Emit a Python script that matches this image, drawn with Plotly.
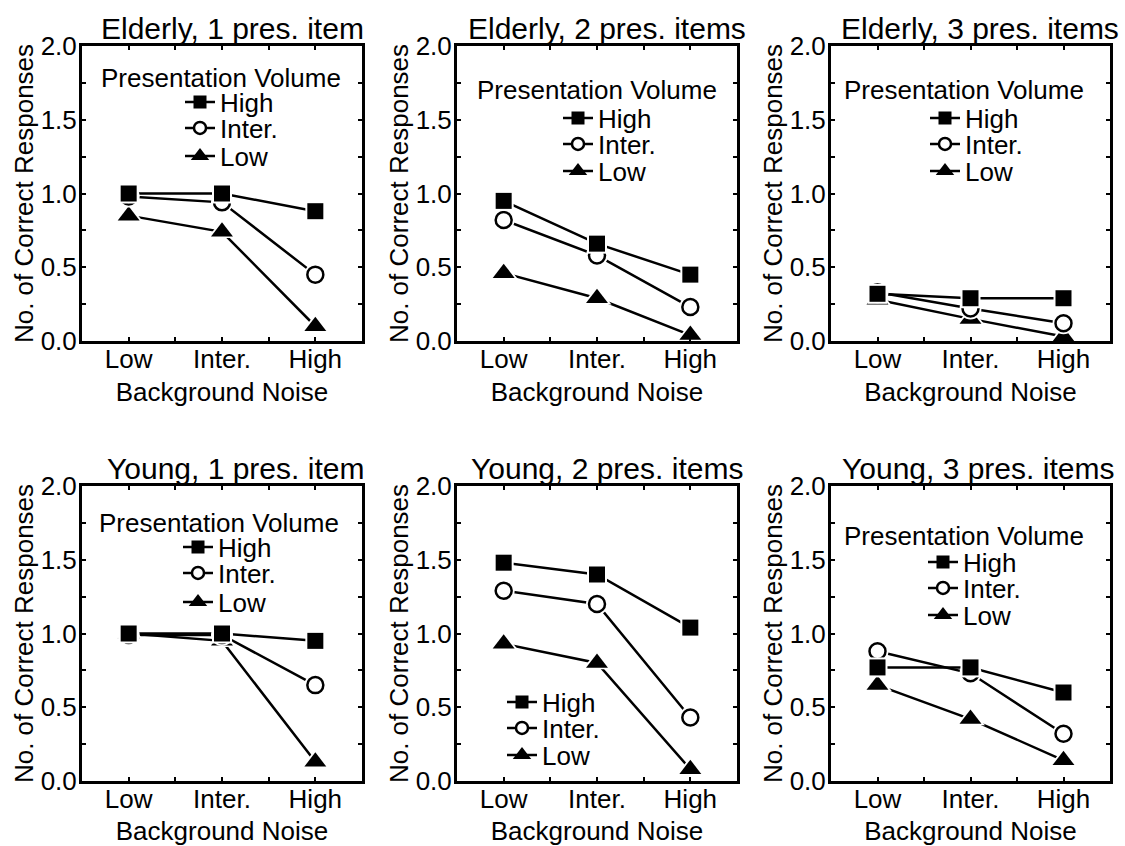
import plotly.graph_objects as go

W, H = 1125, 846

noise_levels = ["Low", "Inter.", "High"]
volume_levels = ["High", "Inter.", "Low"]
panel_titles = [
    "Elderly, 1 pres. item", "Elderly, 2 pres. items", "Elderly, 3 pres. items",
    "Young, 1 pres. item", "Young, 2 pres. items", "Young, 3 pres. items",
]
y_ticks = [0.0, 0.5, 1.0, 1.5, 2.0]

# values per panel: High / Inter. / Low presentation volume, across noise Low, Inter., High
elderly_1_high = [1.00, 1.00, 0.88]
elderly_1_inter = [0.98, 0.94, 0.45]
elderly_1_low = [0.85, 0.74, 0.10]

elderly_2_high = [0.95, 0.66, 0.45]
elderly_2_inter = [0.82, 0.58, 0.23]
elderly_2_low = [0.46, 0.29, 0.04]

elderly_3_high = [0.32, 0.29, 0.29]
elderly_3_inter = [0.33, 0.22, 0.12]
elderly_3_low = [0.28, 0.15, 0.03]

young_1_high = [1.00, 1.00, 0.95]
young_1_inter = [0.99, 0.99, 0.65]
young_1_low = [1.00, 0.95, 0.13]

young_2_high = [1.48, 1.40, 1.04]
young_2_inter = [1.29, 1.20, 0.43]
young_2_low = [0.93, 0.80, 0.08]

young_3_high = [0.77, 0.77, 0.60]
young_3_inter = [0.88, 0.73, 0.32]
young_3_low = [0.65, 0.42, 0.14]

panels = [
    [elderly_1_high, elderly_1_inter, elderly_1_low],
    [elderly_2_high, elderly_2_inter, elderly_2_low],
    [elderly_3_high, elderly_3_inter, elderly_3_low],
    [young_1_high, young_1_inter, young_1_low],
    [young_2_high, young_2_inter, young_2_low],
    [young_3_high, young_3_inter, young_3_low],
]

FONT = "Arial, Liberation Sans, sans-serif"


def fx(px):
    return px / W


def fy(py):
    return 1 - py / H


# plot boxes in pixels (left, right) and (top, bottom)
col_px = [(82, 362), (457, 737), (831, 1110)]
row_px = [(46, 341), (486, 781)]

# marker styles drawn on the data points
styles = {
    "High": dict(symbol="square", size=16, color="black", line=dict(width=0)),
    "Inter.": dict(symbol="circle", size=16, color="white", line=dict(color="black", width=2.5)),
    "Low": dict(symbol="triangle-up", size=19, color="black", line=dict(width=0)),
}
# white halo under each marker, so connecting lines stop short of the symbols
halo_size = {"High": 20, "Inter.": 22, "Low": 25}
# smaller symbols shown in the legend keys
legend_styles = {
    "High": dict(symbol="square", size=13, color="black", line=dict(width=0)),
    "Inter.": dict(symbol="circle", size=12, color="white", line=dict(color="black", width=2.5)),
    "Low": dict(symbol="triangle-up", size=16, color="black", line=dict(width=0)),
}

x_pos = [i + 1 for i in range(len(noise_levels))]

fig = go.Figure()
layout = dict(
    width=W, height=H,
    margin=dict(l=0, r=0, t=0, b=0, autoexpand=False),
    paper_bgcolor="white", plot_bgcolor="white",
    font=dict(family=FONT, color="black", size=26),
    showlegend=True,
)

# legend placement per panel: text-start x px, item centre y px (High, Inter., Low), title centre
legend_pos = [
    (220, [102, 128, 156], (221, 78)),
    (598, [118, 144, 171], (597, 90)),
    (965, [118, 144, 171], (964, 90)),
    (218, [547, 573, 602], (219, 523)),
    (542, [702, 728, 755], None),
    (963, [562, 588, 615], (964, 536)),
]
title_pos = [(232, 28), (607, 28), (980, 28), (235, 468), (607, 468), (978, 468)]

annotations = []
leg_n = 0
for p, series in enumerate(panels):
    r, c = divmod(p, 3)
    idx = "" if p == 0 else str(p + 1)
    xa, ya = "x" + idx, "y" + idx
    tx, item_ys, ttl = legend_pos[p]
    # connecting lines (these also supply the legend keys)
    for k, (name, vals) in enumerate(zip(volume_levels, series)):
        leg_n += 1
        leg = "legend" if leg_n == 1 else "legend" + str(leg_n)
        fig.add_trace(go.Scatter(
            x=x_pos, y=vals, name=name, mode="lines+markers",
            line=dict(color="black", width=2.5),
            marker=legend_styles[name], xaxis=xa, yaxis=ya, legend=leg,
        ))
        layout[leg] = dict(
            x=fx(tx - 40), y=fy(item_ys[k]), xanchor="left", yanchor="middle",
            bgcolor="rgba(0,0,0,0)", borderwidth=0,
            font=dict(size=26, family=FONT, color="black"),
            itemsizing="trace",
        )
    # symbols on top of all lines (Low first, High on top)
    for name, vals in reversed(list(zip(volume_levels, series))):
        fig.add_trace(go.Scatter(
            x=x_pos, y=vals, mode="markers", showlegend=False, hoverinfo="skip",
            marker=dict(symbol=styles[name]["symbol"], size=halo_size[name], color="white",
                        line=dict(width=0)),
            xaxis=xa, yaxis=ya,
        ))
        fig.add_trace(go.Scatter(
            x=x_pos, y=vals, name=name, mode="markers", showlegend=False,
            marker=styles[name], xaxis=xa, yaxis=ya,
        ))
    l, rr = col_px[c]
    t, b = row_px[r]
    axis_common = dict(
        showline=True, linecolor="black", linewidth=3, mirror="ticks",
        ticks="inside", ticklen=4, tickwidth=2, tickcolor="black",
        showgrid=False, zeroline=False,
        tickfont=dict(size=26, family=FONT, color="black"),
    )
    layout["xaxis" + idx] = dict(
        axis_common, domain=[fx(l), fx(rr)], anchor=ya, range=[0.5, 3.5],
        tickvals=x_pos, ticktext=noise_levels, ticklabelstandoff=-7,
        minor=dict(dtick=0.5, tick0=0.5, ticks="inside", ticklen=4, tickwidth=2, tickcolor="black"),
        title=dict(text="Background Noise", font=dict(size=26, family=FONT, color="black"), standoff=10),
    )
    layout["yaxis" + idx] = dict(
        axis_common, domain=[fy(b), fy(t)], anchor=xa, range=[0, 2],
        tickvals=y_ticks, tickformat=".1f", ticklabelstandoff=-3,
        minor=dict(dtick=0.25, tick0=0, ticks="inside", ticklen=4, tickwidth=2, tickcolor="black"),
        title=dict(text="No. of Correct Responses", font=dict(size=26, family=FONT, color="black"), standoff=0),
    )
    if ttl is not None:
        annotations.append(dict(
            text="Presentation Volume", x=fx(ttl[0]), y=fy(ttl[1]), xref="paper", yref="paper",
            xanchor="center", yanchor="middle", showarrow=False,
            font=dict(size=26, family=FONT, color="black"),
        ))
    ttx, tty = title_pos[p]
    annotations.append(dict(
        text=panel_titles[p], x=fx(ttx), y=fy(tty), xref="paper", yref="paper",
        xanchor="center", yanchor="middle", showarrow=False,
        font=dict(size=30, family=FONT, color="black"),
    ))

layout["annotations"] = annotations
fig.update_layout(**layout)
fig.write_html("out.html")
